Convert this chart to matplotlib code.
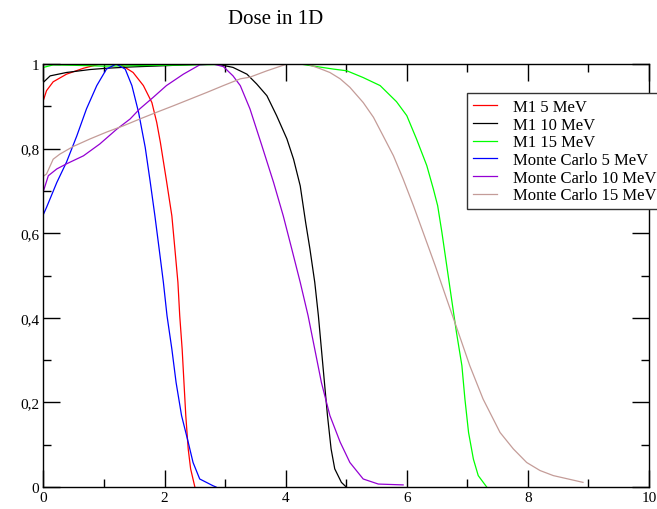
import numpy as np
import matplotlib
matplotlib.use("Agg")
import matplotlib.pyplot as plt
from matplotlib.ticker import MultipleLocator, FuncFormatter

# values (depth, dose)
m1_5_x = [0.0, 0.05, 0.16, 0.38, 0.66, 0.93, 1.26, 1.48, 1.65, 1.79, 1.87, 1.93, 2.03, 2.12, 2.17,
          2.22, 2.25, 2.29, 2.32, 2.35, 2.39, 2.43, 2.50]
m1_5_y = [0.915, 0.937, 0.958, 0.976, 0.99, 1.0, 1.0, 0.98, 0.949, 0.909, 0.862, 0.815, 0.725, 0.641, 0.563,
          0.484, 0.405, 0.326, 0.247, 0.169, 0.09, 0.043, 0.0]

m1_10_x = [0.0, 0.11, 0.38, 0.77, 1.04, 1.43, 2.0, 2.5, 2.86, 3.13, 3.36, 3.52, 3.69, 3.85, 4.02, 4.13,
           4.24, 4.33, 4.40, 4.48, 4.54, 4.59, 4.64, 4.69, 4.75, 4.81, 4.92, 5.0]
m1_10_y = [0.957, 0.972, 0.98, 0.987, 0.99, 0.993, 0.996, 0.999, 1.0, 0.992, 0.976, 0.953, 0.925, 0.878, 0.823, 0.775,
           0.712, 0.625, 0.563, 0.484, 0.405, 0.326, 0.247, 0.169, 0.09, 0.043, 0.011, 0.0]

m1_15_x = [0.0, 0.16, 0.5, 1.0, 2.0, 3.0, 4.24, 4.51, 4.79, 5.01, 5.28, 5.56, 5.83, 6.0, 6.16, 6.33,
           6.44, 6.51, 6.58, 6.66, 6.74, 6.82, 6.91, 6.96, 7.02, 7.10, 7.18, 7.32]
m1_15_y = [0.992, 0.998, 0.997, 0.995, 0.997, 0.999, 1.0, 0.994, 0.988, 0.984, 0.968, 0.949, 0.911, 0.878, 0.823, 0.76,
           0.704, 0.665, 0.602, 0.523, 0.444, 0.366, 0.287, 0.208, 0.129, 0.066, 0.027, 0.0]

mc_5_x = [0.0, 0.05, 0.22, 0.38, 0.55, 0.71, 0.88, 1.04, 1.2, 1.35, 1.46, 1.57, 1.68, 1.76, 1.84, 1.91,
          1.98, 2.04, 2.12, 2.19, 2.28, 2.39, 2.47, 2.58, 2.80, 2.85]
mc_5_y = [0.645, 0.661, 0.72, 0.768, 0.83, 0.894, 0.949, 0.988, 1.0, 0.988, 0.949, 0.886, 0.803, 0.724, 0.641, 0.563,
          0.484, 0.405, 0.326, 0.247, 0.169, 0.106, 0.058, 0.019, 0.003, 0.0]

mc_10_x = [0.0, 0.08, 0.22, 0.38, 0.66, 0.93, 1.21, 1.43, 1.59, 1.81, 2.03, 2.31, 2.58, 2.80, 2.97, 3.13,
           3.25, 3.41, 3.60, 3.80, 3.96, 4.10, 4.24, 4.37, 4.48, 4.59, 4.73, 4.90, 5.06, 5.28, 5.53, 5.94]
mc_10_y = [0.70, 0.736, 0.752, 0.764, 0.783, 0.811, 0.846, 0.87, 0.894, 0.921, 0.949, 0.976, 0.998, 1.0, 0.994, 0.972,
           0.949, 0.894, 0.81, 0.72, 0.641, 0.563, 0.484, 0.405, 0.326, 0.247, 0.169, 0.106, 0.058, 0.019, 0.007, 0.005]

mc_15_x = [0.0, 0.05, 0.16, 0.27, 0.49, 0.77, 1.04, 1.32, 1.59, 1.87, 2.14, 2.42, 2.70, 2.97, 3.25, 3.41,
           3.69, 4.02, 4.35, 4.55, 4.73, 4.90, 5.06, 5.28, 5.45, 5.61, 5.78, 5.94, 6.11, 6.27, 6.47, 6.66,
           6.85, 7.04, 7.26, 7.54, 7.76, 7.98, 8.20, 8.42, 8.91]
mc_15_y = [0.735, 0.74, 0.775, 0.787, 0.805, 0.823, 0.839, 0.854, 0.87, 0.886, 0.901, 0.917, 0.933, 0.949, 0.965, 0.969,
           0.984, 1.0, 1.0, 0.99, 0.98, 0.965, 0.945, 0.909, 0.874, 0.83, 0.783, 0.728, 0.665, 0.602, 0.523, 0.444,
           0.366, 0.287, 0.208, 0.129, 0.09, 0.058, 0.039, 0.027, 0.011]

labels = ["M1 5 MeV", "M1 10 MeV", "M1 15 MeV", "Monte Carlo 5 MeV", "Monte Carlo 10 MeV", "Monte Carlo 15 MeV"]
colors = ["#ff0000", "#000000", "#00ff00", "#0000ff", "#9400d3", "#c49c98"]

series = [(m1_5_x, m1_5_y), (m1_10_x, m1_10_y), (m1_15_x, m1_15_y),
          (mc_5_x, mc_5_y), (mc_10_x, mc_10_y), (mc_15_x, mc_15_y)]

plt.rcParams['font.family'] = ['Liberation Serif', 'DejaVu Serif']

fig = plt.figure(figsize=(6.57, 5.10), dpi=100)
ax = fig.add_axes([0.0662, 0.0431, 0.9216, 0.8294])

for (xs, ys), lab, col in zip(series, labels, colors):
    ax.plot(xs, ys, color=col, lw=0.9, label=lab)

ax.set_xlim(0, 10)
ax.set_ylim(0, 1)
ax.xaxis.set_major_locator(MultipleLocator(2))
ax.xaxis.set_minor_locator(MultipleLocator(1))
ax.yaxis.set_major_locator(MultipleLocator(0.2))
ax.yaxis.set_minor_locator(MultipleLocator(0.1))


def comma_fmt(v, pos):
    if abs(v - round(v)) < 1e-9:
        return str(int(round(v)))
    return f"{v:.1f}".replace('.', ',')


ax.yaxis.set_major_formatter(FuncFormatter(comma_fmt))
ax.xaxis.set_major_formatter(FuncFormatter(comma_fmt))
ax.tick_params(which='both', direction='in', top=True, right=True, labelsize=11, width=1)
ax.tick_params(which='major', length=12, pad=3)
ax.tick_params(which='minor', length=6)
for s in ax.spines.values():
    s.set_linewidth(1)

leg = ax.legend(loc='upper left', bbox_to_anchor=(0.70, 0.931), fontsize=12, frameon=True,
                fancybox=False, framealpha=1, borderpad=0.35, labelspacing=0.1, handlelength=1.45,
                handletextpad=0.95, borderaxespad=0)
leg.set_clip_on(False)
leg.get_frame().set_edgecolor('#333333')
leg.get_frame().set_linewidth(1)

fig.text(0.42, 0.961, "Dose in 1D", ha='center', va='center', fontsize=15)

fig.savefig("out.png", dpi=100)
